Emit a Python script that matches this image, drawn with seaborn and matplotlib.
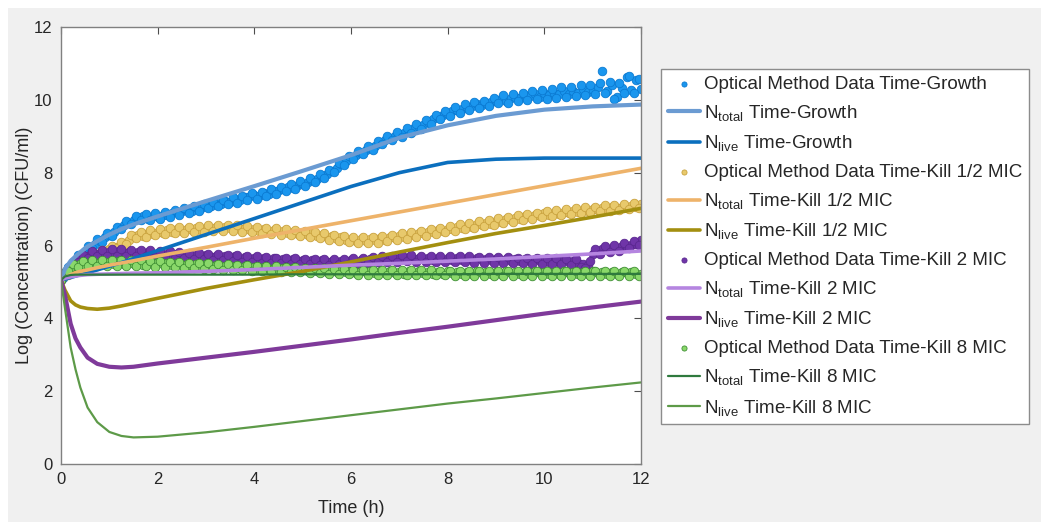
import numpy as np
import matplotlib
matplotlib.use("Agg")
import matplotlib.pyplot as plt
from matplotlib.patches import Rectangle
import seaborn as sns

sns.set_style("white")
plt.rcParams['font.family'] = ['Liberation Sans', 'DejaVu Sans']
plt.rcParams['mathtext.fontset'] = 'custom'
plt.rcParams['mathtext.rm'] = 'Liberation Sans'
plt.rcParams['mathtext.it'] = 'Liberation Sans'

# ---------------- data ----------------
# optical readings, sampled every 0.1 h (set a) and at the half steps (set b)
t_data = np.linspace(0, 12, 121)
t_data_b = np.linspace(0.05, 11.95, 120)

growth_data = [5.05, 5.28, 5.42, 5.60, 5.72, 5.85, 5.93, 6.05, 6.12, 6.22,
               6.30, 6.36, 6.48, 6.55, 6.62, 6.70, 6.76, 6.80, 6.74, 6.82,
               6.78, 6.85, 6.83, 6.90, 6.92, 6.95, 6.98, 6.94, 7.05, 7.04,
               7.10, 7.08, 7.16, 7.14, 7.22, 7.20, 7.27, 7.25, 7.33, 7.35,
               7.38, 7.36, 7.44, 7.42, 7.50, 7.52, 7.55, 7.60, 7.58, 7.66,
               7.70, 7.74, 7.80, 7.83, 7.90, 7.96, 8.05, 8.12, 8.24, 8.33,
               8.42, 8.48, 8.55, 8.62, 8.68, 8.74, 8.82, 8.90, 8.96, 9.00,
               9.06, 9.10, 9.15, 9.22, 9.26, 9.32, 9.40, 9.47, 9.52, 9.58,
               9.62, 9.68, 9.72, 9.76, 9.80, 9.82, 9.88, 9.85, 9.92, 9.95,
               9.96, 10.02, 9.98, 10.05, 10.08, 10.04, 10.12, 10.10, 10.15, 10.08,
               10.18, 10.12, 10.20, 10.15, 10.24, 10.16, 10.25, 10.20, 10.30, 10.22,
               10.28, 10.35, 10.78, 10.25, 10.40, 10.08, 10.32, 10.62, 10.28, 10.55,
               10.30]
growth_data_b = [5.12, 5.42, 5.44, 5.74, 5.70, 5.98, 5.92, 6.17, 6.10, 6.34,
                 6.26, 6.50, 6.44, 6.67, 6.60, 6.82, 6.70, 6.86, 6.70, 6.88,
                 6.74, 6.92, 6.79, 6.98, 6.85, 7.04, 6.89, 7.08, 6.96, 7.15,
                 7.02, 7.20, 7.08, 7.26, 7.13, 7.32, 7.18, 7.37, 7.26, 7.44,
                 7.29, 7.48, 7.35, 7.55, 7.42, 7.62, 7.49, 7.68, 7.54, 7.76,
                 7.64, 7.86, 7.74, 7.95, 7.85, 8.08, 8.01, 8.27, 8.20, 8.46,
                 8.38, 8.60, 8.50, 8.74, 8.63, 8.87, 8.78, 9.02, 8.90, 9.12,
                 8.99, 9.22, 9.10, 9.33, 9.20, 9.45, 9.35, 9.58, 9.46, 9.69,
                 9.56, 9.80, 9.65, 9.88, 9.72, 9.95, 9.78, 9.98, 9.84, 10.06,
                 9.90, 10.12, 9.92, 10.17, 9.96, 10.20, 10.00, 10.25, 10.02, 10.26,
                 10.03, 10.30, 10.05, 10.34, 10.08, 10.36, 10.10, 10.40, 10.12, 10.42,
                 10.15, 10.46, 10.18, 10.50, 10.02, 10.45, 10.20, 10.65, 10.20, 10.58]

half_mic_data = [5.05, 5.20, 5.30, 5.40, 5.50, 5.58, 5.65, 5.72, 5.80, 5.85,
                 5.90, 5.96, 6.00, 6.08, 6.15, 6.25, 6.30, 6.27, 6.35, 6.32,
                 6.38, 6.35, 6.42, 6.38, 6.44, 6.40, 6.45, 6.42, 6.47, 6.43,
                 6.48, 6.45, 6.50, 6.46, 6.52, 6.47, 6.50, 6.44, 6.48, 6.42,
                 6.46, 6.40, 6.44, 6.38, 6.42, 6.36, 6.40, 6.35, 6.38, 6.32,
                 6.35, 6.30, 6.33, 6.26, 6.28, 6.22, 6.25, 6.19, 6.22, 6.15,
                 6.18, 6.13, 6.17, 6.12, 6.18, 6.14, 6.20, 6.16, 6.22, 6.20,
                 6.26, 6.24, 6.30, 6.28, 6.34, 6.33, 6.38, 6.36, 6.42, 6.40,
                 6.46, 6.44, 6.50, 6.47, 6.53, 6.52, 6.58, 6.56, 6.63, 6.60,
                 6.67, 6.65, 6.72, 6.70, 6.76, 6.74, 6.80, 6.78, 6.84, 6.82,
                 6.88, 6.85, 6.90, 6.87, 6.93, 6.90, 6.96, 6.93, 6.98, 6.96,
                 7.00, 6.98, 7.03, 7.00, 7.05, 7.02, 7.07, 7.04, 7.09, 7.07,
                 7.13]
half_mic_data_b = [5.15, 5.20, 5.40, 5.40, 5.60, 5.56, 5.74, 5.70, 5.88, 5.82,
                   6.00, 5.92, 6.10, 6.05, 6.28, 6.20, 6.38, 6.24, 6.42, 6.28,
                   6.46, 6.31, 6.48, 6.33, 6.50, 6.35, 6.52, 6.37, 6.54, 6.38,
                   6.56, 6.40, 6.57, 6.40, 6.56, 6.40, 6.55, 6.38, 6.53, 6.36,
                   6.51, 6.34, 6.49, 6.32, 6.47, 6.30, 6.44, 6.28, 6.42, 6.26,
                   6.40, 6.24, 6.37, 6.20, 6.33, 6.16, 6.30, 6.13, 6.27, 6.09,
                   6.24, 6.07, 6.22, 6.06, 6.23, 6.08, 6.26, 6.11, 6.29, 6.15,
                   6.33, 6.19, 6.37, 6.23, 6.41, 6.27, 6.45, 6.32, 6.49, 6.36,
                   6.54, 6.40, 6.58, 6.44, 6.62, 6.48, 6.66, 6.53, 6.70, 6.57,
                   6.75, 6.61, 6.79, 6.65, 6.83, 6.69, 6.87, 6.73, 6.90, 6.77,
                   6.94, 6.80, 6.97, 6.83, 7.00, 6.86, 7.03, 6.89, 7.05, 6.92,
                   7.07, 6.94, 7.10, 6.96, 7.12, 6.98, 7.14, 7.00, 7.16, 7.04]

two_mic_data = [5.05, 5.30, 5.45, 5.55, 5.65, 5.70, 5.75, 5.72, 5.80, 5.76,
                5.82, 5.78, 5.84, 5.79, 5.83, 5.78, 5.82, 5.77, 5.81, 5.76,
                5.80, 5.74, 5.78, 5.73, 5.77, 5.72, 5.76, 5.70, 5.74, 5.69,
                5.73, 5.68, 5.72, 5.67, 5.71, 5.66, 5.70, 5.64, 5.68, 5.63,
                5.67, 5.62, 5.66, 5.61, 5.65, 5.60, 5.64, 5.58, 5.62, 5.57,
                5.61, 5.56, 5.60, 5.55, 5.59, 5.54, 5.58, 5.53, 5.58, 5.54,
                5.60, 5.55, 5.61, 5.57, 5.63, 5.58, 5.64, 5.60, 5.66, 5.61,
                5.67, 5.62, 5.68, 5.63, 5.67, 5.62, 5.66, 5.61, 5.66, 5.60,
                5.65, 5.60, 5.66, 5.61, 5.65, 5.60, 5.65, 5.60, 5.64, 5.59,
                5.64, 5.59, 5.63, 5.58, 5.63, 5.58, 5.62, 5.57, 5.62, 5.57,
                5.61, 5.56, 5.60, 5.55, 5.60, 5.54, 5.58, 5.52, 5.50, 5.46,
                5.78, 5.86, 5.90, 5.88, 5.94, 5.92, 5.98, 5.96, 6.02, 6.05,
                6.15]
two_mic_data_b = [5.22, 5.32, 5.56, 5.54, 5.74, 5.66, 5.84, 5.70, 5.88, 5.72,
                  5.90, 5.72, 5.90, 5.72, 5.89, 5.71, 5.88, 5.70, 5.87, 5.69,
                  5.85, 5.68, 5.84, 5.66, 5.82, 5.65, 5.80, 5.63, 5.79, 5.62,
                  5.77, 5.60, 5.76, 5.59, 5.74, 5.57, 5.73, 5.56, 5.71, 5.55,
                  5.70, 5.53, 5.69, 5.52, 5.67, 5.51, 5.66, 5.50, 5.65, 5.49,
                  5.64, 5.48, 5.63, 5.47, 5.62, 5.47, 5.62, 5.48, 5.63, 5.49,
                  5.65, 5.50, 5.67, 5.52, 5.69, 5.54, 5.71, 5.55, 5.72, 5.56,
                  5.73, 5.57, 5.73, 5.56, 5.72, 5.56, 5.72, 5.55, 5.71, 5.55,
                  5.71, 5.54, 5.70, 5.54, 5.70, 5.53, 5.69, 5.53, 5.69, 5.52,
                  5.68, 5.52, 5.68, 5.51, 5.67, 5.51, 5.67, 5.50, 5.66, 5.50,
                  5.66, 5.49, 5.65, 5.48, 5.64, 5.47, 5.62, 5.42, 5.38, 5.58,
                  5.90, 5.76, 5.98, 5.82, 6.02, 5.86, 6.06, 5.92, 6.12, 6.02]

eight_mic_data = [5.05, 5.30, 5.40, 5.47, 5.50, 5.46, 5.53, 5.50, 5.56, 5.49,
                  5.55, 5.50, 5.57, 5.48, 5.54, 5.50, 5.56, 5.47, 5.53, 5.49,
                  5.55, 5.48, 5.52, 5.46, 5.52, 5.47, 5.50, 5.44, 5.49, 5.43,
                  5.48, 5.42, 5.47, 5.41, 5.45, 5.40, 5.44, 5.38, 5.43, 5.37,
                  5.42, 5.36, 5.40, 5.35, 5.39, 5.34, 5.38, 5.33, 5.37, 5.32,
                  5.36, 5.30, 5.35, 5.29, 5.33, 5.28, 5.32, 5.27, 5.31, 5.26,
                  5.30, 5.25, 5.31, 5.26, 5.30, 5.24, 5.29, 5.25, 5.30, 5.24,
                  5.28, 5.23, 5.29, 5.24, 5.30, 5.25, 5.28, 5.22, 5.27, 5.23,
                  5.29, 5.24, 5.28, 5.22, 5.27, 5.23, 5.29, 5.24, 5.28, 5.22,
                  5.27, 5.23, 5.29, 5.24, 5.28, 5.22, 5.27, 5.23, 5.29, 5.24,
                  5.28, 5.22, 5.27, 5.23, 5.29, 5.24, 5.28, 5.22, 5.27, 5.23,
                  5.29, 5.24, 5.28, 5.22, 5.27, 5.23, 5.28, 5.24, 5.27, 5.23,
                  5.22]
eight_mic_data_b = [5.22, 5.30, 5.50, 5.42, 5.58, 5.44, 5.60, 5.45, 5.61, 5.45,
                    5.60, 5.45, 5.60, 5.44, 5.59, 5.44, 5.59, 5.43, 5.58, 5.42,
                    5.57, 5.41, 5.56, 5.40, 5.55, 5.39, 5.53, 5.37, 5.52, 5.36,
                    5.51, 5.35, 5.49, 5.34, 5.48, 5.33, 5.47, 5.32, 5.46, 5.31,
                    5.45, 5.30, 5.44, 5.29, 5.43, 5.28, 5.41, 5.27, 5.40, 5.26,
                    5.39, 5.25, 5.38, 5.24, 5.37, 5.23, 5.36, 5.22, 5.35, 5.21,
                    5.34, 5.20, 5.34, 5.20, 5.33, 5.19, 5.33, 5.19, 5.33, 5.19,
                    5.32, 5.19, 5.32, 5.18, 5.32, 5.18, 5.32, 5.18, 5.31, 5.18,
                    5.31, 5.17, 5.31, 5.17, 5.31, 5.17, 5.31, 5.17, 5.31, 5.17,
                    5.30, 5.17, 5.30, 5.17, 5.30, 5.17, 5.30, 5.16, 5.30, 5.16,
                    5.30, 5.16, 5.30, 5.16, 5.30, 5.16, 5.29, 5.16, 5.29, 5.16,
                    5.29, 5.16, 5.29, 5.16, 5.29, 5.16, 5.29, 5.16, 5.29, 5.16]

# model curves
t_model = [0, 0.08, 0.2, 0.3, 0.4, 0.55, 0.75, 1.0, 1.25, 1.5, 2, 3, 4, 5, 6, 7, 8, 9, 10, 11, 12]

ntotal_growth = [5.05, 5.35, 5.58, 5.70, 5.82, 5.97, 6.12, 6.30, 6.45, 6.58, 6.80,
                 7.22, 7.63, 8.05, 8.48, 8.96, 9.30, 9.56, 9.73, 9.82, 9.87]
nlive_growth = [5.05, 5.08, 5.12, 5.16, 5.20, 5.25, 5.33, 5.43, 5.53, 5.64, 5.86,
                6.30, 6.74, 7.18, 7.62, 8.00, 8.28, 8.37, 8.40, 8.40, 8.40]
ntotal_half = [5.05, 5.12, 5.20, 5.25, 5.29, 5.33, 5.39, 5.46, 5.52, 5.58, 5.71,
               5.95, 6.20, 6.44, 6.68, 6.92, 7.16, 7.40, 7.64, 7.88, 8.12]
nlive_half = [5.05, 4.78, 4.48, 4.37, 4.31, 4.27, 4.25, 4.28, 4.34, 4.41, 4.55,
              4.82, 5.06, 5.29, 5.55, 5.82, 6.08, 6.33, 6.55, 6.78, 7.02]
ntotal_two = [5.05, 5.10, 5.14, 5.16, 5.18, 5.20, 5.21, 5.22, 5.23, 5.24, 5.25,
              5.29, 5.34, 5.40, 5.46, 5.51, 5.57, 5.63, 5.70, 5.77, 5.85]
nlive_two = [5.05, 4.65, 3.85, 3.45, 3.20, 2.92, 2.75, 2.67, 2.65, 2.67, 2.76,
             2.92, 3.08, 3.25, 3.42, 3.60, 3.77, 3.95, 4.13, 4.30, 4.46]
ntotal_eight = [5.05, 5.15, 5.19, 5.20, 5.20, 5.20, 5.20, 5.20, 5.20, 5.20, 5.20,
                5.20, 5.20, 5.21, 5.21, 5.21, 5.21, 5.22, 5.22, 5.22, 5.22]
nlive_eight = [5.05, 4.30, 3.20, 2.60, 2.10, 1.55, 1.15, 0.88, 0.77, 0.73, 0.75,
               0.87, 1.02, 1.18, 1.34, 1.50, 1.66, 1.80, 1.95, 2.10, 2.24]

x_ticks = [0, 2, 4, 6, 8, 10, 12]
y_ticks = [0, 2, 4, 6, 8, 10, 12]

# ---------------- figure ----------------
W, H = 1050, 531
fig = plt.figure(figsize=(W / 100, H / 100), dpi=100, facecolor='white')
fig.add_artist(Rectangle((8 / W, 1 - 522 / H), (1041 - 8) / W, (522 - 8) / H,
                         transform=fig.transFigure, facecolor='#f0f0f0',
                         edgecolor='none', zorder=-10))

ax = fig.add_axes([61 / W, 1 - 464 / H, (641 - 61) / W, (464 - 27) / H])
ax.set_facecolor('white')

tt = np.concatenate([t_data, t_data_b])
ms = 38
ew = 0.6


def data(a, b):
    return np.concatenate([a, b])


sns.scatterplot(x=tt, y=data(growth_data, growth_data_b), ax=ax, s=ms, color='#1a96ee',
                edgecolor='#0b7ad2', linewidth=ew,
                label='Optical Method Data Time-Growth')
sns.lineplot(x=t_model, y=ntotal_growth, ax=ax, color='#6b9bd2', lw=3.0,
             label=r'N$_{\mathregular{total}}$ Time-Growth')
sns.lineplot(x=t_model, y=nlive_growth, ax=ax, color='#0b6fbe', lw=2.6,
             label=r'N$_{\mathregular{live}}$ Time-Growth')

sns.scatterplot(x=tt, y=data(half_mic_data, half_mic_data_b), ax=ax, s=ms, color='#e8c96c',
                edgecolor='#c9a23e', linewidth=ew,
                label='Optical Method Data Time-Kill 1/2 MIC')
sns.lineplot(x=t_model, y=ntotal_half, ax=ax, color='#eeb36a', lw=2.6,
             label=r'N$_{\mathregular{total}}$ Time-Kill 1/2 MIC')
sns.lineplot(x=t_model, y=nlive_half, ax=ax, color='#a38f10', lw=2.6,
             label=r'N$_{\mathregular{live}}$ Time-Kill 1/2 MIC')

sns.scatterplot(x=tt, y=data(two_mic_data, two_mic_data_b), ax=ax, s=ms, color='#6f35a8',
                edgecolor='#5a2890', linewidth=ew,
                label='Optical Method Data Time-Kill 2 MIC')
sns.lineplot(x=t_model, y=ntotal_two, ax=ax, color='#b585e0', lw=2.6,
             label=r'N$_{\mathregular{total}}$ Time-Kill 2 MIC')
sns.lineplot(x=t_model, y=nlive_two, ax=ax, color='#7f3a9a', lw=3.0,
             label=r'N$_{\mathregular{live}}$ Time-Kill 2 MIC')

sns.scatterplot(x=tt, y=data(eight_mic_data, eight_mic_data_b), ax=ax, s=ms, color='#8ad86a',
                edgecolor='#3f8f35', linewidth=ew,
                label='Optical Method Data Time-Kill 8 MIC')
sns.lineplot(x=t_model, y=ntotal_eight, ax=ax, color='#2f7a3e', lw=1.6,
             label=r'N$_{\mathregular{total}}$ Time-Kill 8 MIC')
sns.lineplot(x=t_model, y=nlive_eight, ax=ax, color='#5d9a48', lw=1.6,
             label=r'N$_{\mathregular{live}}$ Time-Kill 8 MIC')

ax.set_xlim(0, 12)
ax.set_ylim(0, 12)
ax.set_xticks(x_ticks)
ax.set_yticks(y_ticks)
ax.tick_params(direction='in', length=5, width=0.8, color='#4d4d4d',
               top=True, right=True, labelsize=12, labelcolor='#262626', pad=6)
for sp in ax.spines.values():
    sp.set_color('#808080')
    sp.set_linewidth(1.0)
    sp.set_visible(True)

ax.set_xlabel('Time (h)', fontsize=13, color='#262626', labelpad=9)
ax.set_ylabel('Log (Concentration) (CFU/ml)', fontsize=13, color='#262626', labelpad=1)

leg = ax.legend(loc='upper left', bbox_to_anchor=(661 / W, 1 - 69 / H),
                bbox_transform=fig.transFigure, fontsize=13.5, frameon=True,
                fancybox=False, edgecolor='#8c8c8c', facecolor='white',
                framealpha=1, borderpad=0.35, labelspacing=0.55,
                handlelength=1.75, handletextpad=0.2, borderaxespad=0,
                markerscale=0.6)
leg.get_frame().set_linewidth(1.0)

fig.savefig('out.png', dpi=100, facecolor=fig.get_facecolor())
